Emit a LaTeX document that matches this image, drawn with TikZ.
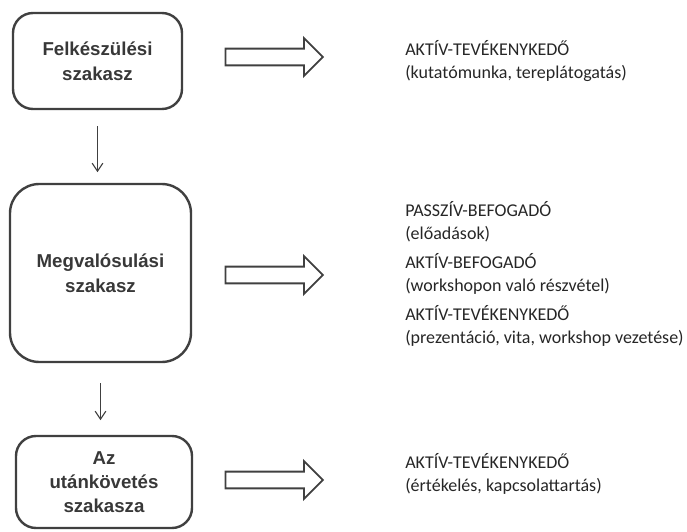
\documentclass[tikz,border=0pt]{standalone}
\usepackage{fontspec}
\setmainfont{Carlito}
\newfontfamily\phasefont{Liberation Sans}
\usetikzlibrary{arrows.meta, positioning, shapes.arrows}

\begin{document}
\begin{tikzpicture}[x=0.75pt, y=-0.75pt,
    phase/.style={draw=black!75, line width=1.8pt, rounded corners=15pt, align=center,
        text=black!78, inner sep=0pt, font=\phasefont\bfseries\fontsize{14}{19}\selectfont},
    bigarrow/.style={single arrow, draw=black!75, line width=1.4pt, fill=white,
        minimum height=73pt, inner sep=0pt, inner ysep=5.6pt,
        single arrow head extend=7.9pt},
    role/.style={align=left, anchor=west, inner sep=0pt, text=black!85,
        font=\fontsize{13.5}{17.3}\selectfont},
    flow/.style={draw=black!75, line width=0.8pt, -{Straight Barb[length=6pt, width=8pt]}}]
    \useasboundingbox (0,0) rectangle (687,532);

    % phase boxes
    \node[phase, minimum width=126.75pt, minimum height=72pt] (prep) at (97.5,61)
        {Felkészülési\\szakasz};
    \node[phase, minimum width=135.75pt, minimum height=133.5pt, rounded corners=22pt]
        (impl) at (100.5,273) {Megvalósulási\\szakasz};
    \node[phase, minimum width=132pt, minimum height=69pt, font=\phasefont\bfseries\fontsize{14}{18}\selectfont]
        (follow) at (104,482) {Az\\utánkövetés\\szakasza};

    % vertical arrows
    \draw[flow, shorten <=12pt, shorten >=8pt] (prep.south) -- (prep.south |- impl.north);
    \draw[flow, shorten <=15pt, shorten >=11pt] (impl.south) -- (impl.south |- follow.north);

    % block arrows
    \node[bigarrow] (arr1) at (270,57) {};
    \node[bigarrow] (arr2) at (270,275) {};
    \node[bigarrow] (arr3) at (270,480) {};

    % roles
    \node[role] (role1) at (405,61)
        {AKTÍV-TEVÉKENYKEDŐ\\(kutatómunka, tereplátogatás)};
    \node[role] (role2) at (405,274)
        {PASSZÍV-BEFOGADÓ\\(előadások)\\[4.5pt]
         AKTÍV-BEFOGADÓ\\(workshopon való részvétel)\\[4.5pt]
         AKTÍV-TEVÉKENYKEDŐ\\(prezentáció, vita, workshop vezetése)};
    \node[role] (role3) at (405,474)
        {AKTÍV-TEVÉKENYKEDŐ\\(értékelés, kapcsolattartás)};
\end{tikzpicture}
\end{document}
